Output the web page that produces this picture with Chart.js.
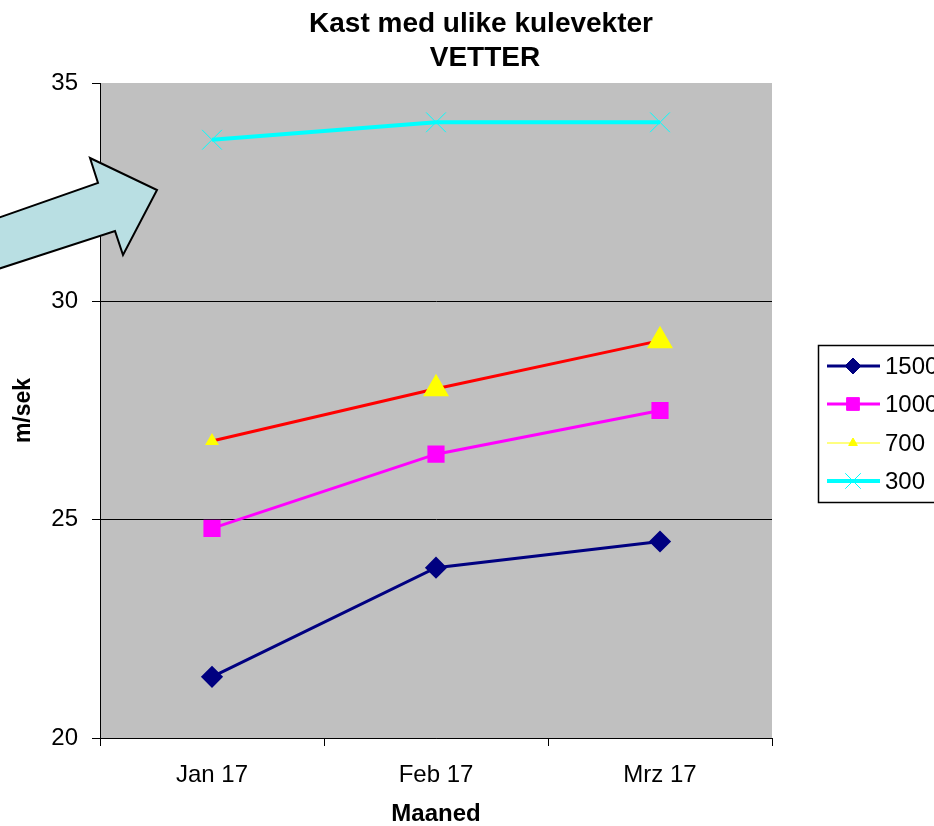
<!DOCTYPE html>
<html>
<head>
<meta charset="utf-8">
<script src="https://cdn.jsdelivr.net/npm/chart.js@4.4.1/dist/chart.umd.min.js"></script>
<style>
  body { margin: 0; background: #fff; }
</style>
</head>
<body>
<canvas id="myChart" width="934" height="826"></canvas>
<script>
const months = ['Jan 17', 'Feb 17', 'Mrz 17'];
const kule1500 = [21.4, 23.9, 24.5];
const kule1000 = [24.8, 26.5, 27.5];
const kule700 = [26.8, 28.0, 29.1];
const kule300 = [33.7, 34.1, 34.1];
const yTicks = [20, 25, 30, 35];
const seriesNames = ['1500', '1000', '700', '300'];

const sans = "'Liberation Sans', Arial, sans-serif";

// legend entries look like the old Excel ones: line + marker
const legendItems = [
    { line: '#000080', lw: 3, style: 'rectRot', r: 8, fill: '#000080' },
    { line: '#ff00ff', lw: 3, style: 'rect', r: 9, fill: '#ff00ff' },
    { line: '#ffff00', lw: 1, style: 'triangle', r: 5, fill: '#ffff00' },
    { line: '#00ffff', lw: 4, style: 'crossRot', r: 11, fill: '#00ffff' }
];

const excelLook = {
    id: 'excelLook',
    beforeDraw(chart) {
        const { ctx, chartArea: a } = chart;
        ctx.save();
        ctx.fillStyle = '#c0c0c0';
        ctx.fillRect(a.left, a.top, a.right - a.left, a.bottom - a.top);
        ctx.restore();
    },
    afterDraw(chart) {
        const ctx = chart.ctx;
        ctx.save();
        // title
        ctx.fillStyle = '#000';
        ctx.textAlign = 'center';
        ctx.textBaseline = 'middle';
        ctx.font = "bold 28px " + sans;
        ctx.fillText('Kast med ulike kulevekter', 481, 24);
        ctx.fillText('VETTER', 485, 58);

        // the arrow
        ctx.beginPath();
        ctx.moveTo(-5, 219);
        ctx.lineTo(98, 183);
        ctx.lineTo(90, 158);
        ctx.lineTo(157, 190);
        ctx.lineTo(123, 255);
        ctx.lineTo(115, 231);
        ctx.lineTo(-5, 270);
        ctx.closePath();
        ctx.fillStyle = '#b9dfe3';
        ctx.fill();
        ctx.strokeStyle = '#000';
        ctx.lineWidth = 2;
        ctx.stroke();

        // legend box
        ctx.fillStyle = '#fff';
        ctx.fillRect(818, 345, 200, 157);
        ctx.strokeStyle = '#000';
        ctx.lineWidth = 1.5;
        ctx.strokeRect(818.5, 345.5, 200, 157);
        const rows = [366, 404, 443, 481];
        legendItems.forEach((it, i) => {
            const y = rows[i];
            ctx.strokeStyle = it.line;
            ctx.lineWidth = it.lw;
            ctx.beginPath();
            ctx.moveTo(827, y);
            ctx.lineTo(880, y);
            ctx.stroke();
            ctx.fillStyle = it.fill;
            ctx.strokeStyle = it.fill;
            ctx.lineWidth = 1;
            Chart.helpers.drawPoint(ctx, {
                pointStyle: it.style, radius: it.r, rotation: 0, borderWidth: 1
            }, 853, y);
            ctx.fillStyle = '#000';
            ctx.textAlign = 'left';
            ctx.font = "24px " + sans;
            ctx.fillText(seriesNames[i], 885, y + 1);
        });
        ctx.restore();
    }
};

const ctx = document.getElementById('myChart').getContext('2d');
const myChart = new Chart(ctx, {
    type: 'line',
    data: {
        labels: months,
        datasets: [{
            label: seriesNames[0],
            data: kule1500,
            borderColor: '#000080',
            borderWidth: 3,
            pointStyle: 'rectRot',
            pointRadius: 9,
            pointBackgroundColor: '#000080',
            pointBorderColor: '#000080',
            tension: 0
        }, {
            label: seriesNames[1],
            data: kule1000,
            borderColor: '#ff00ff',
            borderWidth: 3,
            pointStyle: 'rect',
            pointRadius: 10,
            pointBackgroundColor: '#ff00ff',
            pointBorderColor: '#ff00ff',
            tension: 0
        }, {
            label: seriesNames[2],
            data: kule700,
            borderColor: '#ff0000',
            borderWidth: 3,
            pointStyle: 'triangle',
            pointRadius: [5, 12, 12],
            pointBackgroundColor: '#ffff00',
            pointBorderColor: '#ffff00',
            tension: 0
        }, {
            label: seriesNames[3],
            data: kule300,
            borderColor: '#00ffff',
            borderWidth: 4,
            pointStyle: 'crossRot',
            pointRadius: 14,
            pointBorderWidth: 1,
            pointBackgroundColor: '#00ffff',
            pointBorderColor: '#00ffff',
            tension: 0
        }]
    },
    options: {
        responsive: false,
        animation: false,
        layout: { padding: { top: 83, right: 162, left: 0, bottom: 0 } },
        plugins: {
            legend: { display: false },
            tooltip: { enabled: false }
        },
        scales: {
            x: {
                offset: true,
                grid: {
                    offset: true,
                    drawOnChartArea: false,
                    color: '#000',
                    tickColor: '#000',
                    tickLength: 8
                },
                border: { color: '#000', width: 1 },
                ticks: {
                    color: '#000',
                    font: { family: sans, size: 24 },
                    padding: 15,
                    maxRotation: 0
                },
                title: {
                    display: true,
                    text: 'Maaned',
                    color: '#000',
                    font: { family: sans, size: 24, weight: 'bold', lineHeight: 1 },
                    padding: { top: 0, bottom: 0 }
                },
                afterFit(scale) { scale.height = 88; }
            },
            y: {
                min: yTicks[0],
                max: yTicks[yTicks.length - 1],
                afterBuildTicks(scale) { scale.ticks = yTicks.map(v => ({ value: v })); },
                grid: {
                    color: c => c.tick && c.tick.value === 35 ? 'rgba(0,0,0,0)' : '#000',
                    tickColor: '#000',
                    tickLength: 8
                },
                border: { color: '#000', width: 1 },
                ticks: {
                    color: '#000',
                    font: { family: sans, size: 24 },
                    padding: 14
                },
                title: {
                    display: true,
                    text: 'm/sek',
                    color: '#000',
                    font: { family: sans, size: 23, weight: 'bold', lineHeight: 1 },
                    padding: { top: 12, bottom: 0 }
                },
                afterFit(scale) { scale.width = 100; }
            }
        }
    },
    plugins: [excelLook]
});
</script>
</body>
</html>
